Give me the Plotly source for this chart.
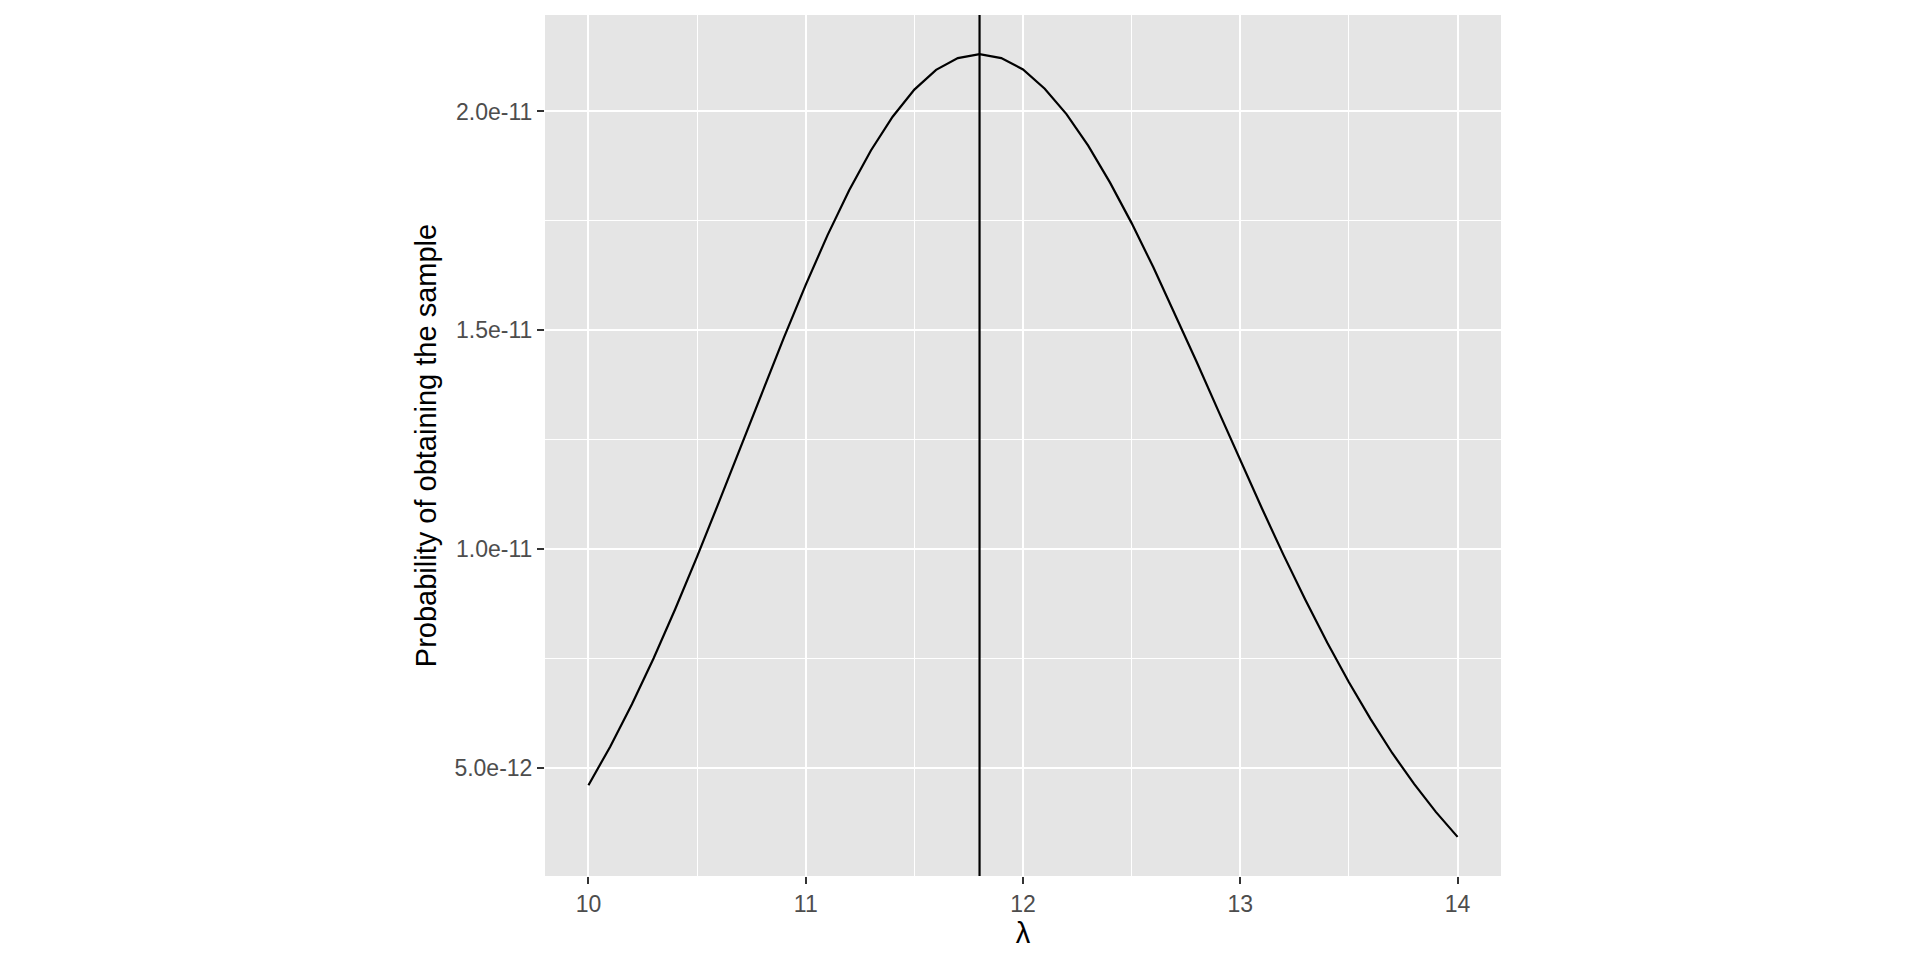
import plotly.graph_objects as go

# lambda grid and likelihood of the sample
lambdas = [10.0, 10.1, 10.2, 10.3, 10.4, 10.5, 10.6, 10.7, 10.8, 10.9,
           11.0, 11.1, 11.2, 11.3, 11.4, 11.5, 11.6, 11.7, 11.8, 11.9,
           12.0, 12.1, 12.2, 12.3, 12.4, 12.5, 12.6, 12.7, 12.8, 12.9,
           13.0, 13.1, 13.2, 13.3, 13.4, 13.5, 13.6, 13.7, 13.8, 13.9, 14.0]
prob = [4.61e-12, 5.49e-12, 6.46e-12, 7.51e-12, 8.64e-12, 9.83e-12,
        1.107e-11, 1.233e-11, 1.360e-11, 1.484e-11, 1.604e-11, 1.717e-11,
        1.820e-11, 1.911e-11, 1.988e-11, 2.050e-11, 2.095e-11, 2.122e-11,
        2.131e-11, 2.122e-11, 2.096e-11, 2.052e-11, 1.994e-11, 1.922e-11,
        1.838e-11, 1.745e-11, 1.644e-11, 1.537e-11, 1.427e-11, 1.315e-11,
        1.203e-11, 1.093e-11, 9.86e-12, 8.84e-12, 7.87e-12, 6.96e-12,
        6.12e-12, 5.34e-12, 4.64e-12, 4.00e-12, 3.43e-12]
mle = 11.8

x_ticks = [10, 11, 12, 13, 14]
x_minor = [10.5, 11.5, 12.5, 13.5]
y_ticks = [5e-12, 1e-11, 1.5e-11, 2e-11]
y_ticktext = ['5.0e-12', '1.0e-11', '1.5e-11', '2.0e-11']
y_minor = [7.5e-12, 1.25e-11, 1.75e-11]

fig = go.Figure()

fig.add_trace(go.Scatter(
    x=lambdas,
    y=prob,
    mode='lines',
    line=dict(color='black', width=2.2),
    showlegend=False
))

# linea vertical en el estimador
fig.add_vline(x=mle, line_color='black', line_width=2.2)

# rango con 5% de expansion como ggplot
x_pad = (max(lambdas) - min(lambdas)) * 0.05
y_pad = (max(prob) - min(prob)) * 0.05

# margenes compensan los 8px de margen del body de la pagina
fig.update_layout(
    width=1920,
    height=960,
    margin=dict(l=537, r=427, t=7, b=92),
    plot_bgcolor='#E5E5E5',
    paper_bgcolor='white',
    font=dict(family='Liberation Sans, Arial, sans-serif'),
    xaxis=dict(
        range=[min(lambdas) - x_pad, max(lambdas) + x_pad],
        tickvals=x_ticks,
        ticks='outside',
        ticklen=7,
        tickwidth=2,
        tickcolor='#333333',
        tickfont=dict(size=23, color='#4D4D4D'),
        showgrid=True,
        gridcolor='white',
        gridwidth=2.4,
        zeroline=False,
        showline=False,
        minor=dict(tickvals=x_minor, showgrid=True, gridcolor='white',
                   gridwidth=1.3, ticks=''),
        title=dict(text='λ', font=dict(size=29, color='black'), standoff=7)
    ),
    yaxis=dict(
        range=[min(prob) - y_pad, max(prob) + y_pad],
        tickvals=y_ticks,
        ticktext=y_ticktext,
        ticks='outside',
        ticklen=7,
        tickwidth=2,
        tickcolor='#333333',
        tickfont=dict(size=23, color='#4D4D4D'),
        showgrid=True,
        gridcolor='white',
        gridwidth=2.4,
        zeroline=False,
        showline=False,
        minor=dict(tickvals=y_minor, showgrid=True, gridcolor='white',
                   gridwidth=1.3, ticks=''),
        title=dict(text='Probability of obtaining the sample',
                   font=dict(size=29, color='black'), standoff=9)
    )
)

fig.write_html("out.html")
